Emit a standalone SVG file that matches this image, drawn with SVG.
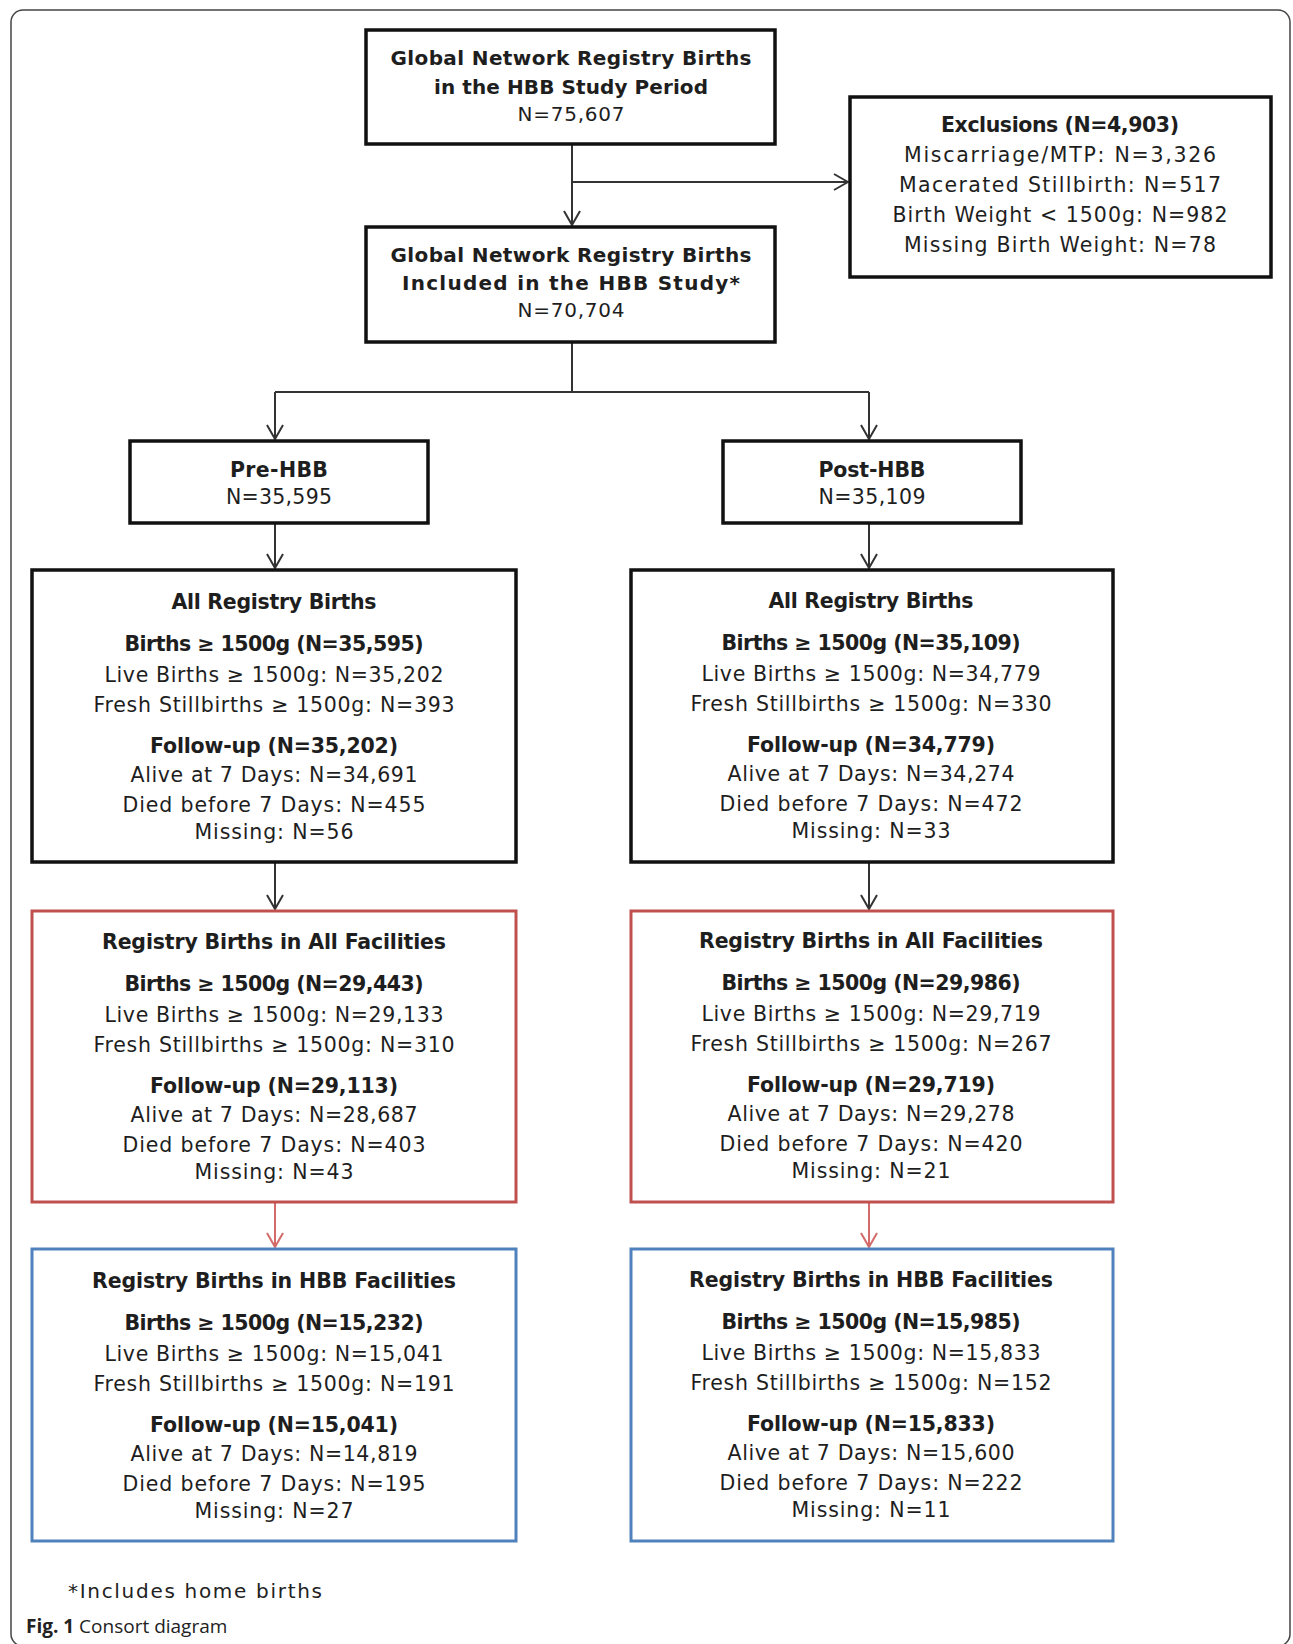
<svg xmlns="http://www.w3.org/2000/svg" width="1293" height="1644" viewBox="0 0 1293 1644">
<style>
.frame{fill:none;stroke:#444;stroke-width:1.5}
.box{fill:#fff;stroke:#111;stroke-width:3.5}
.red{fill:#fff;stroke:#c0504d;stroke-width:3}
.blue{fill:#fff;stroke:#4f81bd;stroke-width:3}
.t{font-family:'DejaVu Sans','Open Sans','Liberation Sans',sans-serif;font-size:20.5px;fill:#1e1e1e;text-anchor:middle}
.h{font-size:20px}
.b{font-weight:bold}
.conn{fill:none;stroke:#333;stroke-width:2}
.connr{fill:none;stroke:#d46a6a;stroke-width:2}
.cap{font-family:'Open Sans',Lato,'Liberation Sans',sans-serif;font-size:19px;fill:#222}
.note{font-family:'DejaVu Sans','Open Sans','Liberation Sans',sans-serif;font-size:20px;fill:#222}
</style>
<defs>
<marker id="arr" viewBox="0 0 16 18" refX="15" refY="9" markerWidth="16" markerHeight="18" markerUnits="userSpaceOnUse" orient="auto">
<path d="M1,1 L15,9 L1,17" fill="none" stroke="#333" stroke-width="2"/>
</marker>
<marker id="arrR" viewBox="0 0 16 18" refX="15" refY="9" markerWidth="16" markerHeight="18" markerUnits="userSpaceOnUse" orient="auto">
<path d="M1,1 L15,9 L1,17" fill="none" stroke="#d46a6a" stroke-width="2"/>
</marker>
</defs>
<rect width="1293" height="1644" fill="#fff"/>
<rect class="frame" x="11" y="10" width="1279" height="1636" rx="12"/>

<g id="connectors">
<path class="conn" d="M572,144 V225" marker-end="url(#arr)"/>
<path class="conn" d="M572,182 H848" marker-end="url(#arr)"/>
<path class="conn" d="M572,342 V392 M275,392 H869"/>
<path class="conn" d="M275,392 V439" marker-end="url(#arr)"/>
<path class="conn" d="M869,392 V439" marker-end="url(#arr)"/>
<path class="conn" d="M275,523 V568" marker-end="url(#arr)"/>
<path class="conn" d="M869,523 V568" marker-end="url(#arr)"/>
<path class="conn" d="M275,862 V909" marker-end="url(#arr)"/>
<path class="conn" d="M869,862 V909" marker-end="url(#arr)"/>
<path class="connr" d="M275,1202 V1247" marker-end="url(#arrR)"/>
<path class="connr" d="M869,1202 V1247" marker-end="url(#arrR)"/>
</g>

<g id="n-period">
<rect class="box" x="366" y="30" width="409" height="114"/>
<text class="t h b" x="571" y="65" textLength="361">Global Network Registry Births</text>
<text class="t h b" x="571" y="94" textLength="274">in the HBB Study Period</text>
<text class="t h" x="571" y="121" textLength="107">N=75,607</text>
</g>

<g id="n-exclusions">
<rect class="box" x="850" y="97" width="421" height="180"/>
<text class="t b" x="1060" y="132" textLength="238">Exclusions (N=4,903)</text>
<text class="t" x="1060" y="162" textLength="312">Miscarriage/MTP:  N=3,326</text>
<text class="t" x="1060" y="192" textLength="322">Macerated Stillbirth:  N=517</text>
<text class="t" x="1060" y="222" textLength="335">Birth Weight &lt; 1500g:  N=982</text>
<text class="t" x="1060" y="252" textLength="312">Missing Birth Weight: N=78</text>
</g>

<g id="n-included">
<rect class="box" x="366" y="227" width="409" height="115"/>
<text class="t h b" x="571" y="262" textLength="361">Global Network Registry Births</text>
<text class="t h b" x="571" y="290" textLength="338">Included  in the HBB Study*</text>
<text class="t h" x="571" y="317" textLength="107">N=70,704</text>
</g>

<g id="n-pre">
<rect class="box" x="130" y="441" width="298" height="82"/>
<text class="t b" x="279" y="477" textLength="98">Pre-HBB</text>
<text class="t" x="279" y="504" textLength="106">N=35,595</text>
</g>

<g id="n-post">
<rect class="box" x="723" y="441" width="298" height="82"/>
<text class="t b" x="872" y="477" textLength="107">Post-HBB</text>
<text class="t" x="872" y="504" textLength="107">N=35,109</text>
</g>

<g id="n-pre-all">
<rect class="box" x="32" y="570" width="484" height="292"/>
<text class="t b" x="274" y="609" textLength="205">All Registry Births</text>
<text class="t b" x="274" y="651" textLength="299">Births ≥ 1500g (N=35,595)</text>
<text class="t" x="274" y="682" textLength="339">Live Births ≥ 1500g:  N=35,202</text>
<text class="t" x="274" y="712" textLength="361">Fresh Stillbirths ≥ 1500g: N=393</text>
<text class="t b" x="274" y="753" textLength="248">Follow-up (N=35,202)</text>
<text class="t" x="274" y="782" textLength="287">Alive at 7 Days: N=34,691</text>
<text class="t" x="274" y="812" textLength="303">Died before 7 Days:  N=455</text>
<text class="t" x="274" y="839" textLength="159">Missing: N=56</text>
</g>

<g id="n-post-all">
<rect class="box" x="631" y="570" width="482" height="292"/>
<text class="t b" x="871" y="608" textLength="205">All Registry Births</text>
<text class="t b" x="871" y="650" textLength="299">Births ≥ 1500g (N=35,109)</text>
<text class="t" x="871" y="681" textLength="339">Live Births ≥ 1500g:  N=34,779</text>
<text class="t" x="871" y="711" textLength="361">Fresh Stillbirths ≥ 1500g: N=330</text>
<text class="t b" x="871" y="752" textLength="248">Follow-up (N=34,779)</text>
<text class="t" x="871" y="781" textLength="287">Alive at 7 Days: N=34,274</text>
<text class="t" x="871" y="811" textLength="303">Died before 7 Days:  N=472</text>
<text class="t" x="871" y="838" textLength="159">Missing: N=33</text>
</g>

<g id="n-pre-facilities">
<rect class="red" x="32" y="911" width="484" height="291"/>
<text class="t b" x="274" y="949" textLength="344">Registry Births in All Facilities</text>
<text class="t b" x="274" y="991" textLength="299">Births ≥ 1500g (N=29,443)</text>
<text class="t" x="274" y="1022" textLength="339">Live Births ≥ 1500g:  N=29,133</text>
<text class="t" x="274" y="1052" textLength="361">Fresh Stillbirths ≥ 1500g: N=310</text>
<text class="t b" x="274" y="1093" textLength="248">Follow-up (N=29,113)</text>
<text class="t" x="274" y="1122" textLength="287">Alive at 7 Days: N=28,687</text>
<text class="t" x="274" y="1152" textLength="303">Died before 7 Days:  N=403</text>
<text class="t" x="274" y="1179" textLength="159">Missing: N=43</text>
</g>

<g id="n-post-facilities">
<rect class="red" x="631" y="911" width="482" height="291"/>
<text class="t b" x="871" y="948" textLength="344">Registry Births in All Facilities</text>
<text class="t b" x="871" y="990" textLength="299">Births ≥ 1500g (N=29,986)</text>
<text class="t" x="871" y="1021" textLength="339">Live Births ≥ 1500g:  N=29,719</text>
<text class="t" x="871" y="1051" textLength="361">Fresh Stillbirths ≥ 1500g: N=267</text>
<text class="t b" x="871" y="1092" textLength="248">Follow-up (N=29,719)</text>
<text class="t" x="871" y="1121" textLength="287">Alive at 7 Days: N=29,278</text>
<text class="t" x="871" y="1151" textLength="303">Died before 7 Days:  N=420</text>
<text class="t" x="871" y="1178" textLength="159">Missing: N=21</text>
</g>

<g id="n-pre-hbb-facilities">
<rect class="blue" x="32" y="1249" width="484" height="292"/>
<text class="t b" x="274" y="1288" textLength="364">Registry Births in HBB Facilities</text>
<text class="t b" x="274" y="1330" textLength="299">Births ≥ 1500g (N=15,232)</text>
<text class="t" x="274" y="1361" textLength="339">Live Births ≥ 1500g:  N=15,041</text>
<text class="t" x="274" y="1391" textLength="361">Fresh Stillbirths ≥ 1500g: N=191</text>
<text class="t b" x="274" y="1432" textLength="248">Follow-up (N=15,041)</text>
<text class="t" x="274" y="1461" textLength="287">Alive at 7 Days: N=14,819</text>
<text class="t" x="274" y="1491" textLength="303">Died before 7 Days:  N=195</text>
<text class="t" x="274" y="1518" textLength="159">Missing: N=27</text>
</g>

<g id="n-post-hbb-facilities">
<rect class="blue" x="631" y="1249" width="482" height="292"/>
<text class="t b" x="871" y="1287" textLength="364">Registry Births in HBB Facilities</text>
<text class="t b" x="871" y="1329" textLength="299">Births ≥ 1500g (N=15,985)</text>
<text class="t" x="871" y="1360" textLength="339">Live Births ≥ 1500g:  N=15,833</text>
<text class="t" x="871" y="1390" textLength="361">Fresh Stillbirths ≥ 1500g: N=152</text>
<text class="t b" x="871" y="1431" textLength="248">Follow-up (N=15,833)</text>
<text class="t" x="871" y="1460" textLength="287">Alive at 7 Days: N=15,600</text>
<text class="t" x="871" y="1490" textLength="303">Died before 7 Days:  N=222</text>
<text class="t" x="871" y="1517" textLength="159">Missing: N=11</text>
</g>

<g id="footnote">
<text class="note" x="68" y="1598" textLength="254">*Includes home births</text>
</g>
<g id="caption">
<text class="cap" x="26" y="1633"><tspan font-weight="bold">Fig. 1</tspan> Consort diagram</text>
</g>
</svg>
